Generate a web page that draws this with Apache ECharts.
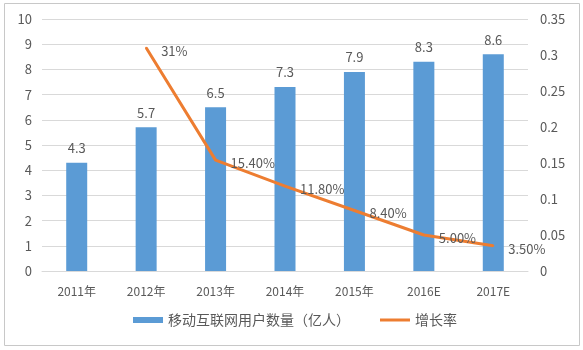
<!DOCTYPE html>
<html>
<head>
<meta charset="utf-8">
<script src="https://cdn.jsdelivr.net/npm/echarts@6/dist/echarts.min.js"></script>
<style>
html,body{margin:0;padding:0;background:#fff;}
#chart{width:583px;height:350px;}
</style>
</head>
<body>
<div id="chart"></div>
<script>
const categories = ['2011年', '2012年', '2013年', '2014年', '2015年', '2016E', '2017E'];
const users = [4.3, 5.7, 6.5, 7.3, 7.9, 8.3, 8.6];
const growth = [null, 0.31, 0.154, 0.118, 0.084, 0.05, 0.035];
const growthLabels = ['', '31%', '15.40%', '11.80%', '8.40%', '5.00%', '3.50%'];
const leftTicks = [0, 1, 2, 3, 4, 5, 6, 7, 8, 9, 10];
const rightTicks = [0, 0.05, 0.1, 0.15, 0.2, 0.25, 0.3, 0.35];

const textColor = '#595959';
const font = '"Noto Sans CJK SC", "Open Sans", sans-serif';

const chart = echarts.init(document.getElementById('chart'));
chart.setOption({
  animation: false,
  textStyle: { fontFamily: font },
  graphic: [{
    type: 'rect',
    shape: { x: 4.5, y: 3.5, width: 575, height: 342 },
    style: { fill: 'none', stroke: '#c8c8c8', lineWidth: 1 },
    silent: true
  }],
  grid: { left: 42, right: 55, top: 19, bottom: 79 },
  legend: {
    bottom: 18,
    left: 128,
    itemGap: 30,
    itemWidth: 30,
    itemHeight: 6,
    textStyle: { color: textColor, fontSize: 14, fontFamily: font },
    data: [
      { name: '移动互联网用户数量（亿人）', icon: 'rect', itemStyle: { color: '#5b9bd5' } },
      { name: '增长率', icon: 'path://M0,0L30,0L30,3L0,3Z', itemStyle: { color: '#ed7d31' } }
    ]
  },
  xAxis: {
    type: 'category',
    data: categories,
    axisTick: { show: false },
    axisLine: { lineStyle: { color: '#d9d9d9', width: 1 } },
    axisLabel: { color: textColor, fontSize: 12, margin: 14 }
  },
  yAxis: [{
    type: 'value',
    min: leftTicks[0],
    max: leftTicks[leftTicks.length - 1],
    interval: 1,
    axisLine: { show: false },
    axisTick: { show: false },
    splitLine: { lineStyle: { color: '#d9d9d9' } },
    axisLabel: { color: textColor, fontSize: 13, margin: 10 }
  }, {
    type: 'value',
    min: rightTicks[0],
    max: rightTicks[rightTicks.length - 1],
    interval: 0.05,
    axisLine: { show: false },
    axisTick: { show: false },
    splitLine: { show: false },
    axisLabel: { color: textColor, fontSize: 13, margin: 12, formatter: v => String(+v.toFixed(2)) }
  }],
  series: [{
    name: '移动互联网用户数量（亿人）',
    type: 'bar',
    data: users,
    barWidth: 21,
    itemStyle: { color: '#5b9bd5' },
    label: { show: true, position: 'top', color: textColor, fontSize: 13, distance: 8 }
  }, {
    name: '增长率',
    type: 'line',
    yAxisIndex: 1,
    data: growth,
    smooth: false,
    symbol: 'circle',
    symbolSize: 2,
    showSymbol: true,
    lineStyle: { color: '#ed7d31', width: 3, join: 'round' },
    itemStyle: { color: '#ed7d31' },
    label: {
      show: true,
      position: 'right',
      distance: 14,
      offset: [0, 3],
      color: textColor,
      fontSize: 13,
      formatter: p => growthLabels[p.dataIndex]
    }
  }]
});
</script>
</body>
</html>
